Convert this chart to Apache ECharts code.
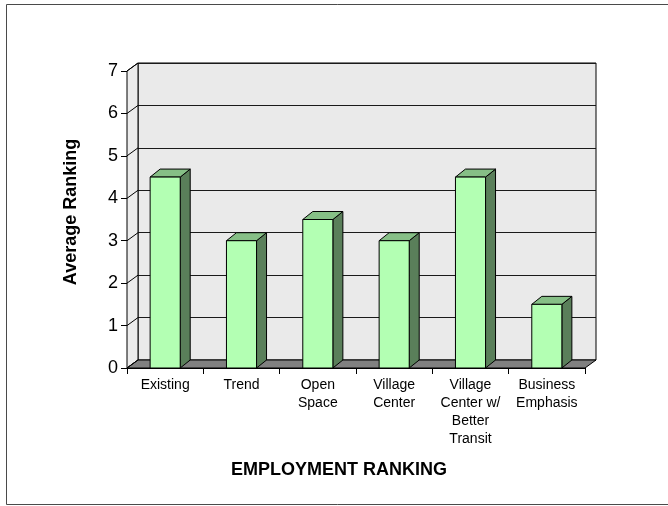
<!DOCTYPE html>
<html>
<head>
<meta charset="utf-8">
<style>
  html, body { margin: 0; padding: 0; background: #fff; }
  #chart { width: 668px; height: 506px; }
</style>
<script src="https://cdn.jsdelivr.net/npm/echarts@6/dist/echarts.min.js"></script>
</head>
<body>
<div id="chart"></div>
<script>
// Employment ranking by scenario
var categories = ['Existing', 'Trend', 'Open\nSpace', 'Village\nCenter', 'Village\nCenter w/\nBetter\nTransit', 'Business\nEmphasis'];
var rankings = [4.5, 3.0, 3.5, 3.0, 4.5, 1.5];
var yTicks = [0, 1, 2, 3, 4, 5, 6, 7];
var yMax = 7;

var FONT = '"Liberation Sans", Arial, sans-serif';
// depth offset of the back wall and the bars (pseudo-3D)
var WALL_DX = 11, WALL_DY = -8;
var BAR_DX = 10, BAR_DY = -8;

var chart = echarts.init(document.getElementById('chart'), null, { renderer: 'canvas' });

function bandEdges(api) {
  var band = api.size([1, 0])[0];
  var first = api.coord([0, 0]);
  var last = api.coord([categories.length - 1, 0]);
  var top = api.coord([0, yMax]);
  return {
    left: first[0] - band / 2,
    right: last[0] + band / 2,
    bottom: first[1],
    top: top[1]
  };
}

var option = {
  animation: false,
  backgroundColor: '#fff',
  grid: [
    { left: 127, top: 71, width: 458, height: 297 },
    { left: 138, top: 63, width: 458, height: 297, show: true,
      backgroundColor: '#eaeaea', borderColor: '#000', borderWidth: 1 }
  ],
  xAxis: [
    {
      type: 'category', gridIndex: 0, data: categories,
      axisLine: { show: true, lineStyle: { color: '#000', width: 1 } },
      axisTick: { show: true, length: 6, lineStyle: { color: '#000' } },
      axisLabel: { color: '#000', fontFamily: FONT, fontSize: 14, lineHeight: 18, margin: 8, interval: 0 }
    },
    {
      type: 'category', gridIndex: 1, data: categories, show: false
    }
  ],
  yAxis: [
    {
      type: 'value', gridIndex: 0, min: 0, max: yMax, interval: 1,
      axisLine: { show: true, lineStyle: { color: '#000', width: 1 } },
      axisTick: { show: true, length: 6, lineStyle: { color: '#000' } },
      axisLabel: { color: '#000', fontFamily: FONT, fontSize: 18, margin: 9 },
      splitLine: { show: false }
    },
    {
      type: 'value', gridIndex: 1, min: 0, max: yMax, interval: 1,
      axisLine: { show: false }, axisTick: { show: false }, axisLabel: { show: false },
      splitLine: { show: true, lineStyle: { color: '#1a1a1a', width: 1 } }
    }
  ],
  graphic: [
    {
      type: 'rect', z: -10, silent: true,
      shape: { x: 6.5, y: 4.5, width: 680, height: 500 },
      style: { fill: 'none', stroke: '#4a4a4a', lineWidth: 1 }
    },
    {
      type: 'text', x: 339, y: 470, silent: true,
      style: { text: 'EMPLOYMENT RANKING', font: 'bold 18px ' + FONT, fill: '#000',
               textAlign: 'center', textVerticalAlign: 'middle' }
    },
    {
      type: 'text', x: 71, y: 212, rotation: Math.PI / 2, silent: true,
      style: { text: 'Average Ranking', font: 'bold 18px ' + FONT, fill: '#000',
               textAlign: 'center', textVerticalAlign: 'middle' }
    }
  ],
  series: [
    {
      // left side wall and floor
      type: 'custom', xAxisIndex: 0, yAxisIndex: 0, z: 1, silent: true,
      data: [0],
      renderItem: function (params, api) {
        var e = bandEdges(api);
        return {
          type: 'group',
          children: [
            {
              type: 'polygon',
              shape: { points: [[e.left, e.bottom], [e.left, e.top], [e.left + WALL_DX, e.top + WALL_DY], [e.left + WALL_DX, e.bottom + WALL_DY]] },
              style: { fill: '#ececec', stroke: '#000', lineWidth: 1 }
            },
            {
              type: 'polygon',
              shape: { points: [[e.left, e.bottom], [e.right, e.bottom], [e.right + WALL_DX, e.bottom + WALL_DY], [e.left + WALL_DX, e.bottom + WALL_DY]] },
              style: { fill: '#808080', stroke: '#000', lineWidth: 1 }
            }
          ]
        };
      }
    },
    {
      // gridline segments across the side wall
      type: 'custom', xAxisIndex: 0, yAxisIndex: 0, z: 2, silent: true,
      data: yTicks.map(function (v) { return [0, v]; }),
      encode: { x: 0, y: 1 },
      renderItem: function (params, api) {
        var e = bandEdges(api);
        var y = api.coord([0, api.value(1)])[1];
        return {
          type: 'line',
          shape: { x1: e.left, y1: y, x2: e.left + WALL_DX, y2: y + WALL_DY },
          style: { stroke: '#000', lineWidth: 1 }
        };
      }
    },
    {
      // 3D bars
      type: 'custom', xAxisIndex: 0, yAxisIndex: 0, z: 3, silent: true,
      data: rankings.map(function (v, i) { return [i, v]; }),
      encode: { x: 0, y: 1 },
      renderItem: function (params, api) {
        var i = api.value(0);
        var topPt = api.coord([i, api.value(1)]);
        var basePt = api.coord([i, 0]);
        var half = api.size([1, 0])[0] * 0.394 / 2;
        var x0 = topPt[0] - half, x1 = topPt[0] + half;
        var yt = topPt[1], yb = basePt[1];
        var stroke = { stroke: '#000', lineWidth: 1 };
        return {
          type: 'group',
          children: [
            {
              type: 'polygon',
              shape: { points: [[x1, yt], [x1 + BAR_DX, yt + BAR_DY], [x1 + BAR_DX, yb + BAR_DY], [x1, yb]] },
              style: Object.assign({ fill: '#5a7f5a' }, stroke)
            },
            {
              type: 'polygon',
              shape: { points: [[x0, yt], [x0 + BAR_DX, yt + BAR_DY], [x1 + BAR_DX, yt + BAR_DY], [x1, yt]] },
              style: Object.assign({ fill: '#86bf86' }, stroke)
            },
            {
              type: 'rect',
              shape: { x: x0, y: yt, width: x1 - x0, height: yb - yt },
              style: Object.assign({ fill: '#b3ffb3' }, stroke)
            }
          ]
        };
      }
    }
  ]
};

chart.setOption(option);
</script>
</body>
</html>
